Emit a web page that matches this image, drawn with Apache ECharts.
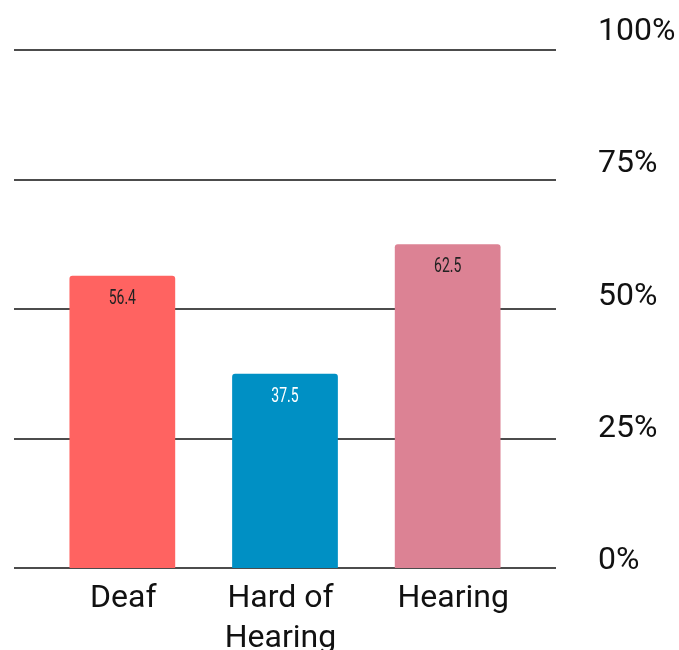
<!DOCTYPE html>
<html>
<head>
<meta charset="utf-8">
<script src="https://cdn.jsdelivr.net/npm/echarts@6/dist/echarts.min.js"></script>
<style>
  html, body { margin: 0; padding: 0; background: #fff; }
  #chart { width: 679px; height: 650px; }
</style>
</head>
<body>
<div id="chart"></div>
<script>
// Share of respondents by hearing status
const categories = ['Deaf', 'Hard of\nHearing', 'Hearing'];
const values = [56.4, 37.5, 62.5];
const barColors = ['#ff6361', '#0090c4', '#dc8294'];
const labelColors = ['#222222', '#ffffff', '#222222'];
const tickValues = [0, 25, 50, 75, 100];

const chart = echarts.init(document.getElementById('chart'));

const catText = { fontFamily: 'Roboto', fontSize: 32, lineHeight: 40, color: '#111' };

const option = {
  animation: false,
  grid: [
    // gridlines, full width
    { left: 14, right: 123, top: 50, bottom: 82, outerBoundsMode: 'none', containLabel: false },
    // bars
    { left: 41, right: 150, top: 50, bottom: 82, outerBoundsMode: 'none', containLabel: false },
    // percentage labels on the right
    { left: 14, right: 123, top: 32, bottom: 89, outerBoundsMode: 'none', containLabel: false }
  ],
  xAxis: [
    { gridIndex: 0, type: 'value', min: 0, max: 1, show: false },
    {
      gridIndex: 1,
      type: 'category',
      data: categories,
      axisLine: { show: false },
      axisTick: { show: false },
      axisLabel: {
        interval: 0,
        hideOverlap: false,
        margin: 11,
        fontFamily: 'Roboto',
        fontSize: 32,
        lineHeight: 40,
        color: '#111',
        formatter: function (v, i) {
          const tag = ['c0', 'c1', 'c2'][i];
          return v.split('\n').map(function (s) { return '{' + tag + '|' + s + '}'; }).join('\n');
        },
        rich: {
          c0: Object.assign({ padding: [0, 0, 0, 2] }, catText),
          c1: Object.assign({ padding: [0, 9, 0, 0] }, catText),
          c2: Object.assign({ padding: [0, 0, 0, 11] }, catText)
        }
      }
    },
    { gridIndex: 2, type: 'value', min: 0, max: 1, show: false }
  ],
  yAxis: [
    {
      gridIndex: 0,
      type: 'value',
      min: 0, max: 100, interval: 25,
      axisLine: { show: false },
      axisTick: { show: false },
      axisLabel: { show: false },
      splitLine: { show: true, lineStyle: { color: '#111', width: 1.5 } }
    },
    {
      gridIndex: 1,
      type: 'value',
      min: 0, max: 100,
      axisLine: { show: false },
      axisTick: { show: false },
      axisLabel: { show: false },
      splitLine: { show: false }
    },
    {
      gridIndex: 2,
      type: 'value',
      position: 'right',
      min: 0, max: 100, interval: 25,
      axisLine: { show: false },
      axisTick: { show: false },
      splitLine: { show: false },
      axisLabel: {
        margin: 42,
        align: 'left',
        fontFamily: 'Roboto',
        fontSize: 32,
        color: '#111',
        formatter: function (v) { return tickValues.indexOf(v) >= 0 ? v + '%' : ''; }
      }
    }
  ],
  series: [
    {
      type: 'bar',
      xAxisIndex: 1,
      yAxisIndex: 1,
      barCategoryGap: '35%',
      data: values.map(function (v, i) {
        return {
          value: v,
          itemStyle: { color: barColors[i], borderRadius: [3, 3, 0, 0] }
        };
      })
    },
    {
      // condensed value labels just inside the top of each bar
      type: 'custom',
      xAxisIndex: 1,
      yAxisIndex: 1,
      z: 10,
      encode: { x: 0, y: 1 },
      data: values.map(function (v, i) { return [categories[i], v]; }),
      renderItem: function (params, api) {
        const i = params.dataIndex;
        const p = api.coord([i, values[i]]);
        return {
          type: 'text',
          x: p[0],
          y: p[1] + 23,
          scaleX: 0.7,
          style: {
            text: String(values[i]),
            align: 'center',
            verticalAlign: 'middle',
            font: '20px Roboto',
            fill: labelColors[i]
          }
        };
      }
    }
  ]
};

chart.setOption(option);
</script>
</body>
</html>
